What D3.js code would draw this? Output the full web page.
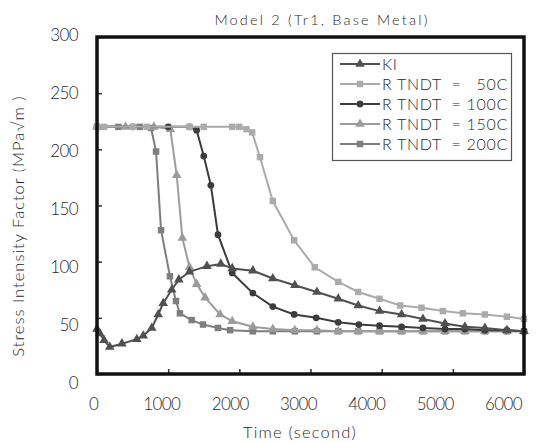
<!DOCTYPE html>
<html><head><meta charset="utf-8">
<script src="https://cdn.jsdelivr.net/npm/d3@7"></script>
<style>
body{margin:0;background:#fff;}
svg text{font-family:"Lato","Liberation Sans",Arial,sans-serif !important;font-weight:300;fill:#2a2a2a;}
</style></head>
<body><svg id="c" width="541" height="443"></svg>
<script>
const title = "Model 2 (Tr1, Base Metal)";
const xTitle = "Time (second)";
const yTitle = "Stress Intensity Factor (MPa\u221Am )";
const xTicks = [0, 1000, 2000, 3000, 4000, 5000, 6000];
const yTicks = [0, 50, 100, 150, 200, 250, 300];
const seriesNames = ["KI", "R TNDT  =   50C", "R TNDT  = 100C", "R TNDT  = 150C", "R TNDT  = 200C"];

const kiT = [0, 40, 100, 180, 350, 560, 650, 770, 860, 930, 1050, 1150, 1300, 1545, 1740, 1900, 2190, 2470, 2780, 3090, 3390, 3670, 3970, 4280, 4580, 4890, 5170, 5450, 5760, 6000];
const kiV = [40, 36, 30, 24, 27, 31, 34, 41, 53, 63, 75, 84, 91, 96, 98, 94, 92, 85, 79, 73, 67, 61, 56, 53, 49, 45, 42, 41, 39, 38];

const r50T = [0, 100, 500, 700, 1300, 1500, 1900, 2000, 2100, 2180, 2290, 2470, 2770, 3060, 3390, 3670, 3970, 4260, 4560, 4860, 5140, 5450, 5760, 6000];
const r50V = [220, 220, 220, 220, 220, 220, 220, 220, 218, 215, 193, 154, 119, 95, 82, 73, 67, 61, 59, 56, 54, 53, 51, 49];

const r100T = [0, 500, 1000, 1300, 1400, 1500, 1600, 1700, 1900, 2190, 2470, 2770, 3080, 3390, 3680, 3970, 4280, 4580, 4890, 5170, 5450, 5760, 6000];
const r100V = [220, 220, 220, 220, 217, 194, 168, 124, 90, 72, 60, 53, 50, 46, 44, 43, 42, 41, 40, 40, 39, 39, 38];

const r150T = [0, 400, 800, 1030, 1120, 1200, 1300, 1400, 1520, 1730, 1900, 2190, 2470, 2780, 3090, 3390, 3670, 3970, 4280, 4580, 4890, 5170, 5450, 5760, 6000];
const r150V = [220, 220, 220, 218, 177, 121, 95, 80, 68, 53, 47, 42, 40, 39, 39, 38, 38, 38, 38, 38, 38, 38, 38, 38, 38];

const r200T = [0, 300, 600, 760, 830, 900, 1025, 1110, 1165, 1330, 1490, 1700, 1870, 2190, 2470, 2780, 3090, 3390, 3670, 3970, 4280, 4580, 4890, 5170, 5450, 5760, 6000];
const r200V = [220, 220, 220, 219, 198, 128, 87, 65, 54, 48, 44, 41, 39, 38, 38, 38, 38, 38, 38, 38, 38, 38, 38, 38, 38, 38, 38];

const series = [
  {name: seriesNames[0], t: kiT, v: kiV, color: "#505050", marker: "triangle"},
  {name: seriesNames[1], t: r50T, v: r50V, color: "#ababab", marker: "square"},
  {name: seriesNames[2], t: r100T, v: r100V, color: "#3c3c3c", marker: "circle"},
  {name: seriesNames[3], t: r150T, v: r150V, color: "#9c9c9c", marker: "triangle"},
  {name: seriesNames[4], t: r200T, v: r200V, color: "#7e7e7e", marker: "square"}
];

const svg = d3.select("#c");
const L = 97, R = 524, T = 37, B = 374;
const x = d3.scaleLinear().domain([0, 6000]).range([L, R]);
const y = d3.scaleLinear().domain([0, 300]).range([B, T]);
// label positions as drawn in the reference (slightly offset from ticks)
const xl = d3.scaleLinear().domain([0, 6000]).range([93, 503]);
const yl = d3.scaleLinear().domain([0, 300]).range([383, 35]);

// tick marks (inside)
svg.append("g").attr("transform", `translate(0,${B})`)
  .call(d3.axisTop(x).tickValues(xTicks).tickSize(5).tickFormat(""))
  .call(g => g.select(".domain").remove())
  .selectAll("line").attr("stroke", "#333").attr("stroke-width", 1.5);
svg.append("g").attr("transform", `translate(${L},0)`)
  .call(d3.axisRight(y).tickValues(yTicks).tickSize(5).tickFormat(""))
  .call(g => g.select(".domain").remove())
  .selectAll("line").attr("stroke", "#333").attr("stroke-width", 1.5);

// tick labels
const xa = svg.append("g").attr("transform", `translate(0,410)`)
  .call(d3.axisBottom(xl).tickValues(xTicks).tickSize(0).tickPadding(0).tickFormat(d3.format("d")));
xa.select(".domain").remove();
xa.selectAll("text").attr("font-size", 17).attr("letter-spacing", "-0.6").attr("dy", "0");
const ya = svg.append("g").attr("transform", `translate(78,0)`)
  .call(d3.axisLeft(yl).tickValues(yTicks).tickSize(0).tickPadding(0).tickFormat(d3.format("d")));
ya.select(".domain").remove();
ya.selectAll("text").attr("font-size", 17).attr("letter-spacing", "-0.6");

// lines
const line = d3.line().x(d => x(d[0])).y(d => y(d[1]));
const sym = {triangle: d3.symbolTriangle, square: d3.symbolSquare, circle: d3.symbolCircle};
const symSize = {triangle: 40, square: 42, circle: 36};

series.slice().reverse().forEach(s => {
  const pts = s.t.map((t, i) => [t, s.v[i]]);
  svg.append("path").datum(pts).attr("d", line)
    .attr("fill", "none").attr("stroke", s.color).attr("stroke-width", 2);
  svg.append("g").selectAll("path").data(pts).join("path")
    .attr("d", d3.symbol().type(sym[s.marker]).size(symSize[s.marker]))
    .attr("transform", d => `translate(${x(d[0])},${y(d[1])})`)
    .attr("fill", s.color);
});

// frame
svg.append("rect").attr("x", L).attr("y", T).attr("width", R - L).attr("height", B - T)
  .attr("fill", "none").attr("stroke", "#111").attr("stroke-width", 3.5);

// legend
const lg = svg.append("g");
lg.append("rect").attr("x", 332.5).attr("y", 53.5).attr("width", 179).attr("height", 107)
  .attr("fill", "#fff").attr("stroke", "#555").attr("stroke-width", 1.2);
series.forEach((s, i) => {
  const yy = 64 + i * 20;
  lg.append("line").attr("x1", 340).attr("x2", 380).attr("y1", yy).attr("y2", yy)
    .attr("stroke", s.color).attr("stroke-width", 2);
  lg.append("path").attr("d", d3.symbol().type(sym[s.marker]).size(symSize[s.marker])())
    .attr("transform", `translate(360,${yy})`).attr("fill", s.color);
  lg.append("text").attr("x", 382).attr("y", yy + 6).attr("font-size", 16)
    .attr("letter-spacing", "0.7").style("white-space", "pre").text(s.name);
});

// titles
svg.append("text").attr("x", 322).attr("y", 25).attr("text-anchor", "middle")
  .attr("font-size", 14.5).attr("letter-spacing", "2.2").text(title);
svg.append("text").attr("x", 300).attr("y", 438).attr("text-anchor", "middle")
  .attr("font-size", 16.5).attr("letter-spacing", "1.2").text(xTitle);
svg.append("text").attr("transform", "translate(24,226) rotate(-90)").attr("text-anchor", "middle")
  .attr("font-size", 16.5).attr("letter-spacing", "1").text(yTitle);
</script></body></html>
